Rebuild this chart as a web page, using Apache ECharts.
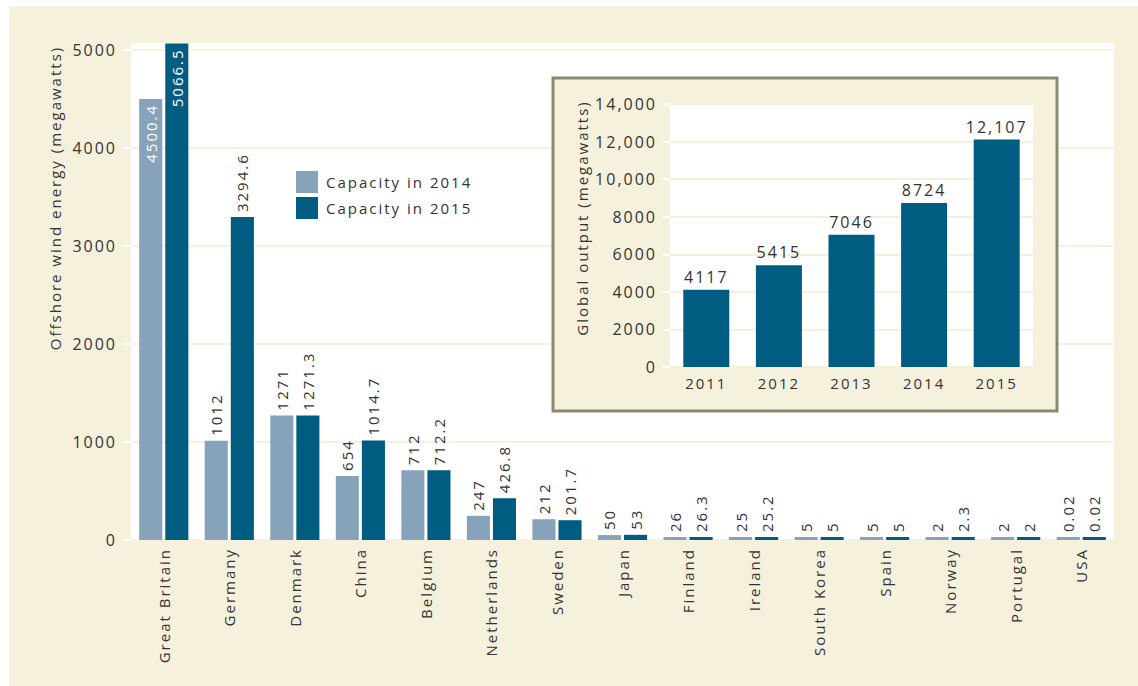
<!DOCTYPE html>
<html>
<head>
<meta charset="utf-8">
<script src="https://cdn.jsdelivr.net/npm/echarts@6/dist/echarts.min.js"></script>
<style>
  html, body { margin: 0; padding: 0; background: #fff; }
  #chart { position: absolute; left: 9px; top: 6px; width: 1129px; height: 680px; }
  #chart text { letter-spacing: 2px; }
</style>
</head>
<body>
<div id="chart"></div>
<script>
    // country capacities (megawatts)
    var countries = ['Great Britain', 'Germany', 'Denmark', 'China', 'Belgium', 'Netherlands', 'Sweden',
        'Japan', 'Finland', 'Ireland', 'South Korea', 'Spain', 'Norway', 'Portugal', 'USA'];
    var cap2014 = [4500.4, 1012, 1271, 654, 712, 247, 212, 50, 26, 25, 5, 5, 2, 2, 0.02];
    var cap2015 = [5066.5, 3294.6, 1271.3, 1014.7, 712.2, 426.8, 201.7, 53, 26.3, 25.2, 5, 5, 2.3, 2, 0.02];
    var mainTicks = [0, 1000, 2000, 3000, 4000, 5000];

    // global output inset
    var years = ['2011', '2012', '2013', '2014', '2015'];
    var globalOutput = [4117, 5415, 7046, 8724, 12107];
    var insetTicks = [0, 2000, 4000, 6000, 8000, 10000, 12000, 14000];

    var cream = '#f6f1dc';
    var light = '#87a2bb';
    var dark = '#005c81';
    var txt = '#333';
    var font = '"Open Sans", "DejaVu Sans", sans-serif';

    function fmt(v) {
        return v >= 10000 ? echarts.format.addCommas(v) : String(v);
    }

    // first bar of each series carries its label inside, in white
    function labelData(values) {
        return values.map(function (v, i) {
            if (i === 0) {
                return {
                    value: v,
                    label: { position: 'insideTop', align: 'right', color: '#fff', distance: 5 }
                };
            }
            return v;
        });
    }

    var barLabel = {
        show: true,
        position: 'top',
        rotate: 90,
        align: 'left',
        verticalAlign: 'middle',
        distance: 5,
        fontSize: 15,
        fontFamily: font,
        color: txt
    };

    var option = {
        backgroundColor: cream,
        animation: false,
        textStyle: { fontFamily: font },
        legend: {
            orient: 'vertical',
            left: 287,
            top: 165,
            padding: 0,
            itemWidth: 22,
            itemHeight: 22,
            itemGap: 4,
            icon: 'rect',
            textStyle: { fontSize: 15, color: txt, fontFamily: font, padding: [0, 0, 0, 3] },
            data: ['Capacity in 2014', 'Capacity in 2015']
        },
        grid: [
            {
                left: 122, top: 37, width: 983, height: 497,
                show: true, backgroundColor: '#fff', borderWidth: 0, z: 0
            },
            {
                left: 661, top: 98, width: 363, height: 263,
                show: true, backgroundColor: '#fff', borderWidth: 0, z: 5
            }
        ],
        xAxis: [
            {
                type: 'category',
                gridIndex: 0,
                data: countries,
                axisLine: { show: false },
                axisTick: { show: false },
                axisLabel: {
                    interval: 0, rotate: 90, margin: 8,
                    fontSize: 15, color: txt, fontFamily: font
                }
            },
            {
                type: 'category',
                gridIndex: 1,
                data: years,
                z: 6,
                axisLine: { show: false },
                axisTick: { show: false },
                axisLabel: { margin: 8, fontSize: 15, color: txt, fontFamily: font }
            }
        ],
        yAxis: [
            {
                type: 'value',
                gridIndex: 0,
                min: 0,
                max: 5071,
                interval: 1000,
                axisLine: { show: false },
                axisTick: {
                    show: true, length: 8, customValues: mainTicks,
                    lineStyle: { color: '#fff', width: 2 }
                },
                axisLabel: {
                    margin: 14, fontSize: 16, color: txt, fontFamily: font,
                    customValues: mainTicks,
                    formatter: function (v) { return String(v); }
                },
                splitLine: {
                    lineStyle: { color: [cream, cream, cream, cream, cream, cream, '#fff'], width: 2 }
                }
            },
            {
                type: 'value',
                gridIndex: 1,
                min: 0,
                max: 14000,
                interval: 2000,
                z: 6,
                axisLine: { show: false },
                axisTick: {
                    show: true, length: 8, customValues: insetTicks,
                    lineStyle: { color: '#fff', width: 2 }
                },
                axisLabel: {
                    margin: 13, fontSize: 16, color: txt, fontFamily: font,
                    formatter: fmt
                },
                splitLine: { lineStyle: { color: cream, width: 2 } }
            }
        ],
        graphic: [
            {
                type: 'text',
                x: 46, y: 192,
                rotation: Math.PI / 2,
                style: {
                    text: 'Offshore wind energy (megawatts)',
                    fill: txt, font: '15px ' + font,
                    align: 'center', verticalAlign: 'middle'
                }
            },
            {
                type: 'rect',
                z: 4,
                shape: { x: 544, y: 72, width: 504, height: 333 },
                style: { fill: cream, stroke: '#8b8970', lineWidth: 3 }
            },
            {
                type: 'text',
                x: 573, y: 212,
                z: 6,
                rotation: Math.PI / 2,
                style: {
                    text: 'Global output (megawatts)',
                    fill: txt, font: '15px ' + font,
                    align: 'center', verticalAlign: 'middle'
                }
            }
        ],
        series: [
            {
                name: 'Capacity in 2014',
                type: 'bar',
                xAxisIndex: 0, yAxisIndex: 0,
                data: labelData(cap2014),
                itemStyle: { color: light },
                barGap: '13%',
                barCategoryGap: '25%',
                barMinHeight: 3,
                label: barLabel
            },
            {
                name: 'Capacity in 2015',
                type: 'bar',
                xAxisIndex: 0, yAxisIndex: 0,
                data: labelData(cap2015),
                itemStyle: { color: dark },
                barGap: '13%',
                barCategoryGap: '25%',
                barMinHeight: 3,
                label: barLabel
            },
            {
                name: 'Global output',
                type: 'bar',
                xAxisIndex: 1, yAxisIndex: 1,
                z: 7,
                data: globalOutput,
                itemStyle: { color: dark },
                barWidth: 46,
                label: {
                    show: true, position: 'top', distance: 5,
                    fontSize: 16, color: txt, fontFamily: font,
                    formatter: function (p) { return fmt(p.value); }
                }
            }
        ]
    };

    var chart = echarts.init(document.getElementById('chart'), null, { renderer: 'svg' });
    chart.setOption(option);
</script>
</body>
</html>
